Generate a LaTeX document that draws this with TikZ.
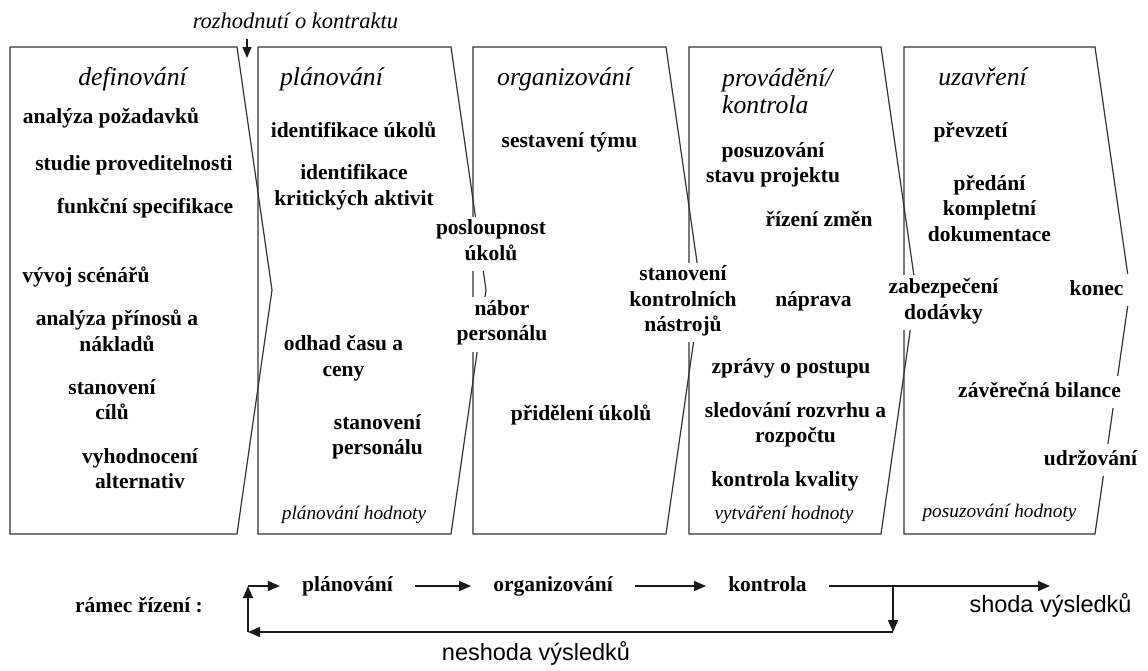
\documentclass[tikz,border=0pt]{standalone}
\usepackage{fontspec}
\setmainfont{Liberation Serif}
\setsansfont{Liberation Sans}
\usetikzlibrary{arrows.meta}

\begin{document}
\begin{tikzpicture}[x=1pt, y=-1pt,
        panel/.style={draw=black!80, line width=1.2pt},
        txt/.style={inner sep=3pt, align=center,
            execute at begin node=\strut, execute at end node=\strut},
        item/.style={txt, fill=white, font=\fontsize{21.5}{25.5}\selectfont\bfseries},
        faze/.style={txt, align=left, font=\fontsize{25.7}{27}\selectfont\itshape},
        hodnota/.style={txt, font=\fontsize{19.3}{22}\selectfont\itshape},
        ctrl/.style={item, inner xsep=22pt},
        vysledek/.style={txt, font=\fontsize{23.5}{26}\selectfont\sffamily},
        flow/.style={draw=black!90, line width=1.4pt, -{Triangle[length=12pt,width=10pt]}}]
    \useasboundingbox (0,0) rectangle (1148,670);

    % pet fazi projektu
    \foreach \l/\r in {10/237, 258/451, 473/666, 689/881, 904/1095}
    {
        \draw[panel] (\l,47) -- (\r,47) -- (\r+35,290) -- (\r,534) -- (\l,534) -- cycle;
    }

    \node[txt, font=\fontsize{22.5}{25}\selectfont\itshape] (kontrakt) at (295.5,23) {rozhodnutí o kontraktu};
    \coordinate (kontraktTip) at (247,58);
    \draw[flow, line width=1.3pt, -{Triangle[length=11pt,width=9pt]}] (kontrakt.south -| kontraktTip) -- (kontraktTip);

    % definovani
    \node[faze] (definovani) at (132.5,80) {definování};
    \node[item] (pozadavky) at (111,118) {analýza požadavků};
    \node[item] (studie) at (134,165) {studie proveditelnosti};
    \node[item] (specifikace) at (145,208) {funkční specifikace};
    \node[item] (scenare) at (86,277) {vývoj scénářů};
    \node[item] (prinosy) at (117,334.5) {analýza přínosů a\\nákladů};
    \node[item] (cile) at (112,403.5) {stanovení\\cílů};
    \node[item] (alternativy) at (140,472.5) {vyhodnocení\\alternativ};

    % planovani
    \node[faze] (planovani) at (331.5,80) {plánování};
    \node[item] (ukoly) at (353.5,132) {identifikace úkolů};
    \node[item] (kriticke) at (354,189) {identifikace\\kritických aktivit};
    \node[item] (posloupnost) at (491,244) {posloupnost\\úkolů};
    \node[item] (nabor) at (502,324.5) {nábor\\personálu};
    \node[item] (odhad) at (343.5,359.5) {odhad času a\\ceny};
    \node[item] (personal) at (377.5,438.5) {stanovení\\personálu};
    \node[hodnota] (planHodnoty) at (354,515) {plánování hodnoty};

    % organizovani
    \node[faze] (organizovani) at (564.5,80) {organizování};
    \node[item] (tym) at (569.5,142) {sestavení týmu};
    \node[item] (nastroje) at (683,302.5) {stanovení\\kontrolních\\nástrojů};
    \node[item] (prideleni) at (581,415) {přidělení úkolů};

    % provadeni a kontrola
    \node[faze, anchor=west] (provadeni) at (719,95) {provádění/\\kontrola};
    \node[item] (stav) at (773,166.5) {posuzování\\stavu projektu};
    \node[item] (zmeny) at (819,221) {řízení změn};
    \node[item] (naprava) at (813.5,301) {náprava};
    \node[item] (zpravy) at (791,368) {zprávy o postupu};
    \node[item] (rozvrh) at (795.5,426.5) {sledování rozvrhu a\\rozpočtu};
    \node[item] (kvalita) at (785,481) {kontrola kvality};
    \node[hodnota] (vytvareni) at (784,515) {vytváření hodnoty};

    % uzavreni
    \node[faze] (uzavreni) at (982.5,80) {uzavření};
    \node[item] (prevzeti) at (970.5,132) {převzetí};
    \node[item] (predani) at (989.5,212) {předání\\kompletní\\dokumentace};
    \node[item] (dodavky) at (943.5,302.5) {zabezpečení\\dodávky};
    \node[item, minimum width=76pt] (konec) at (1096.5,290) {konec};
    \node[item] (bilance) at (1039.5,392) {závěrečná bilance};
    \node[item] (udrzovani) at (1090.5,460) {udržování};
    \node[hodnota] (posuzovani) at (999.5,513) {posuzování hodnoty};

    % ramec rizeni
    \node[item] (ramec) at (139,607) {rámec řízení :};
    \node[ctrl] (planovaniR) at (347.5,586) {plánování};
    \node[ctrl] (organizovaniR) at (553,586) {organizování};
    \node[ctrl] (kontrolaR) at (767.5,586) {kontrola};
    \node[vysledek] (shoda) at (1050.5,607) {shoda výsledků};
    \node[vysledek] (neshoda) at (536,655) {neshoda výsledků};

    \coordinate (loopTop) at (248,586);
    \coordinate (loopBot) at (248,632);
    \coordinate (split) at (893,586);
    \coordinate (splitBot) at (893,632);
    \coordinate (shodaEnd) at (1050,586);

    \draw[flow] (loopTop) -- (planovaniR);
    \draw[flow] (planovaniR) -- (organizovaniR);
    \draw[flow] (organizovaniR) -- (kontrolaR);
    \draw[flow] (kontrolaR) -- (shodaEnd);
    \draw[flow] (split) -- (splitBot);
    \draw[flow] (splitBot) -- (loopBot);
    \draw[flow] (loopBot) -- (loopTop);
\end{tikzpicture}
\end{document}
